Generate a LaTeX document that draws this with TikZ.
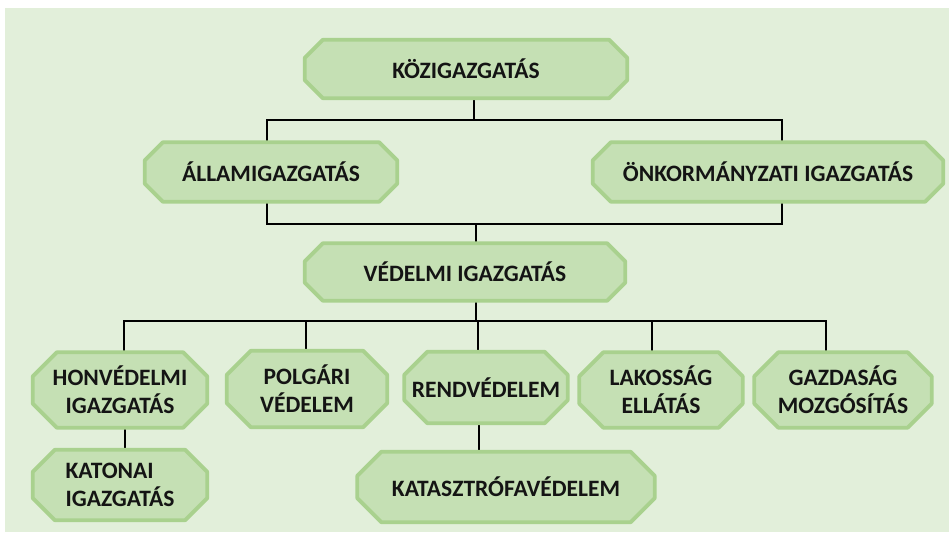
\documentclass[tikz,border=0pt]{standalone}
\usepackage{fontspec}
\setmainfont{Carlito}
\usetikzlibrary{calc,backgrounds}

\definecolor{pagebg}{HTML}{E2EFDA}
\definecolor{boxfill}{HTML}{C5E0B4}
\definecolor{boxedge}{HTML}{A9D18E}
\definecolor{ink}{HTML}{141414}

\tikzset{
  unit/.style={inner sep=0pt, font=\fontsize{23.5}{28}\selectfont\bfseries, text=ink, align=center},
  link/.style={draw=black, line width=2.9pt},
  octo/.style={fill=boxfill, draw=boxedge, line width=3.8pt, line join=round}
}

% chamfered frame around a named node: #1 node, #2 chamfer size
\newcommand\octframe[2]{%
  \path[octo] ($(#1.north west)+(#2,0)$) -- ($(#1.north east)+(-#2,0)$)
    -- ($(#1.north east)+(0,#2)$) -- ($(#1.south east)+(0,-#2)$)
    -- ($(#1.south east)+(-#2,0)$) -- ($(#1.south west)+(#2,0)$)
    -- ($(#1.south west)+(0,-#2)$) -- ($(#1.north west)+(0,#2)$) -- cycle;}

\begin{document}
\begin{tikzpicture}[x=1pt,y=-1pt]
\useasboundingbox (0,0) rectangle (949,535);

% boxes
\node[unit, minimum width=322pt, minimum height=58pt] (koz) at (466,69) {KÖZIGAZGATÁS};
\node[unit, minimum width=252pt, minimum height=59pt] (alla) at (271,172) {ÁLLAMIGAZGATÁS};
\node[unit, minimum width=350pt, minimum height=59pt] (onk) at (768,172) {ÖNKORMÁNYZATI IGAZGATÁS};
\node[unit, minimum width=320pt, minimum height=57pt] (ved) at (465,272) {VÉDELMI IGAZGATÁS};

\node[unit, minimum width=174pt, minimum height=75pt] (honv) at (120,390) {HONVÉDELMI\\IGAZGATÁS};
\node[unit, minimum width=160pt, minimum height=76pt] (polg) at (307,389) {POLGÁRI\\VÉDELEM};
\node[unit, minimum width=163pt, minimum height=71pt] (rend) at (486,387.5) {RENDVÉDELEM};
\node[unit, minimum width=163pt, minimum height=75pt] (lak) at (661,390) {LAKOSSÁG\\ELLÁTÁS};
\node[unit, minimum width=177pt, minimum height=75pt] (gazd) at (843,390) {GAZDASÁG\\MOZGÓSÍTÁS};

\node[unit, align=left, minimum width=174pt, minimum height=70pt] (kat) at (120,485) {KATONAI\\IGAZGATÁS};
\node[unit, minimum width=297pt, minimum height=70pt] (kata) at (506,487) {KATASZTRÓFAVÉDELEM};

% junction points of the connectors
\coordinate (t1) at (474,120);
\coordinate (t1l) at (267,120);
\coordinate (t1r) at (782,120);
\coordinate (t2) at (476,224);
\coordinate (t3) at (476,321);
\coordinate (c1) at (124,321);
\coordinate (c2) at (306,321);
\coordinate (c3) at (478,321);
\coordinate (c4) at (652,321);
\coordinate (c5) at (826,321);
\coordinate (d1) at (125,440);
\coordinate (d2) at (479,440);

\begin{scope}[on background layer]
  \fill[pagebg] (5,8) rectangle (949,532);

  % connectors
  \draw[link] (koz.south -| t1) -- (t1);
  \draw[link] (alla.north -| t1l) -- (t1l) -- (t1r) -- (onk.north -| t1r);
  \draw[link] (alla.south -| t1l) -- (t1l |- t2) -- (t1r |- t2) -- (onk.south -| t1r);
  \draw[link] (t2) -- (ved.north -| t2);
  \draw[link] (ved.south -| t3) -- (t3);
  \draw[link] (honv.north -| c1) -- (c1) -- (c5) -- (gazd.north -| c5);
  \draw[link] (c2) -- (polg.north -| c2);
  \draw[link] (c3) -- (rend.north -| c3);
  \draw[link] (c4) -- (lak.north -| c4);
  \draw[link] (honv.south -| d1) -- (kat.north -| d1);
  \draw[link] (rend.south -| d2) -- (kata.north -| d2);

  % chamfered frames
  \octframe{koz}{18}
  \octframe{alla}{18}
  \octframe{onk}{18}
  \octframe{ved}{18}
  \octframe{honv}{24}
  \octframe{polg}{24}
  \octframe{rend}{23}
  \octframe{lak}{24}
  \octframe{gazd}{24}
  \octframe{kat}{22}
  \octframe{kata}{24}
\end{scope}
\end{tikzpicture}
\end{document}
